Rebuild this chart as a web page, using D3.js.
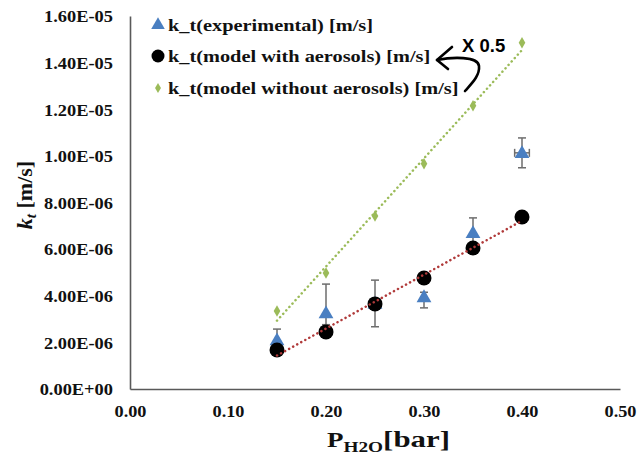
<!DOCTYPE html>
<html>
<head>
<meta charset="utf-8">
<script src="https://cdn.jsdelivr.net/npm/d3@7"></script>
<style>
  html, body { margin: 0; padding: 0; background: #fff; }
  svg { display: block; }
</style>
</head>
<body>
<div id="chart"></div>
<script>
// ---- data ----
const pressures = [0.15, 0.20, 0.25, 0.30, 0.35, 0.40];
const ktExperimental = [2.10e-6, 3.26e-6, 3.67e-6, 3.95e-6, 6.70e-6, 10.13e-6];
const expErrPlus  = [0.47e-6, 1.24e-6, 1.00e-6, 0.20e-6, 0.64e-6, 0.64e-6];
const expErrMinus = [0.47e-6, 0.50e-6, 1.00e-6, 0.47e-6, 0.64e-6, 0.64e-6];
const expErrX     = [0, 0, 0, 0, 0, 0.0075];
const ktWithAerosols = [1.67e-6, 2.45e-6, 3.65e-6, 4.76e-6, 6.05e-6, 7.38e-6];
const ktWithoutAerosols = [3.35e-6, 4.98e-6, 7.42e-6, 9.66e-6, 12.15e-6, 14.85e-6];
const xTicks = [0, 0.1, 0.2, 0.3, 0.4, 0.5];
const yTicks = [0, 2e-6, 4e-6, 6e-6, 8e-6, 10e-6, 12e-6, 14e-6, 16e-6];
const legendLabels = [
  "k_t(experimental) [m/s]",
  "k_t(model with aerosols) [m/s]",
  "k_t(model without aerosols) [m/s]"
];
const annotationText = "X 0.5";

// ---- layout ----
const W = 639, H = 463;
const plot = { left: 130, right: 620, top: 16, bottom: 389 };
const serif = "'Liberation Serif', 'Times New Roman', serif";
const colors = { exp: "#4a7fc1", withA: "#000000", withoutA: "#9bbb59", trendA: "#b03a3a", trendB: "#9bbb59", axis: "#595959" };

const svg = d3.select("#chart").append("svg").attr("width", W).attr("height", H);

const x = d3.scaleLinear().domain([0, 0.5]).range([plot.left, plot.right]);
const y = d3.scaleLinear().domain([0, 1.6e-5]).range([plot.bottom, plot.top]);

// axes
const xAxis = d3.axisBottom(x).tickValues(xTicks).tickSize(0).tickPadding(16).tickFormat(d3.format(".2f"));
const yFmt = d => {
  if (d === 0) return "0.00E+00";
  const e = Math.floor(Math.log10(d) + 1e-9);
  const m = d / Math.pow(10, e);
  return m.toFixed(2) + "E-" + String(-e).padStart(2, "0");
};
const yAxis = d3.axisLeft(y).tickValues(yTicks).tickSize(0).tickPadding(17).tickFormat(yFmt);

const gx = svg.append("g").attr("transform", `translate(0,${plot.bottom})`).call(xAxis);
const gy = svg.append("g").attr("transform", `translate(${plot.left},0)`).call(yAxis);
[gx, gy].forEach(g => {
  g.attr("font-family", null).attr("font-size", null);
  g.select(".domain").attr("stroke", colors.axis).attr("stroke-width", 1.6);
  g.selectAll("text").attr("font-family", serif).attr("font-weight", "bold").attr("font-size", 16.5).attr("fill", "#111");
});
gy.selectAll("text").attr("dy", "0.35em");
// widen tick labels horizontally, as in the reference
const yLab = gy.selectAll("text");
const ySc = 69 / yLab.filter((d, i) => i === yTicks.length - 1).node().getComputedTextLength();
yLab.attr("x", 0).attr("transform", `translate(-17,0) scale(${ySc},1)`);
const xLab = gx.selectAll("text");
const xSc = 32 / xLab.node().getComputedTextLength();
xLab.attr("transform", `scale(${xSc},1)`).attr("x", 0);
xLab.attr("x", (d) => 0).each(function () {});
// x labels are anchored at their tick translate, so scaling around x=0 keeps them centred

// error bars
const eg = svg.append("g").attr("stroke", "#6d6d6d").attr("stroke-width", 1.5).attr("fill", "none");
pressures.forEach((p, i) => {
  const cx = x(p);
  const yTop = y(ktExperimental[i] + expErrPlus[i]);
  const yBot = y(ktExperimental[i] - expErrMinus[i]);
  eg.append("line").attr("x1", cx).attr("x2", cx).attr("y1", yTop).attr("y2", yBot);
  eg.append("line").attr("x1", cx - 4).attr("x2", cx + 4).attr("y1", yTop).attr("y2", yTop);
  eg.append("line").attr("x1", cx - 4).attr("x2", cx + 4).attr("y1", yBot).attr("y2", yBot);
  if (expErrX[i] > 0) {
    const cy = y(ktExperimental[i]);
    const xl = x(p - expErrX[i]), xr = x(p + expErrX[i]);
    eg.append("line").attr("x1", xl).attr("x2", xr).attr("y1", cy).attr("y2", cy);
    eg.append("line").attr("x1", xl).attr("x2", xl).attr("y1", cy - 4).attr("y2", cy + 4);
    eg.append("line").attr("x1", xr).attr("x2", xr).attr("y1", cy - 4).attr("y2", cy + 4);
  }
});

// markers
const tri = d3.symbol().type(d3.symbolTriangle).size(95);
const dia = d3.symbol().type(d3.symbolDiamond).size(38);
svg.append("g").selectAll("path").data(pressures).join("path")
  .attr("d", tri).attr("transform", (d, i) => `translate(${x(d)},${y(ktExperimental[i]) + 1})`)
  .attr("fill", colors.exp);
svg.append("g").selectAll("circle").data(pressures).join("circle")
  .attr("cx", d => x(d)).attr("cy", (d, i) => y(ktWithAerosols[i])).attr("r", 7.5)
  .attr("fill", colors.withA);
svg.append("g").selectAll("path").data(pressures).join("path")
  .attr("d", dia).attr("transform", (d, i) => `translate(${x(d)},${y(ktWithoutAerosols[i])})`)
  .attr("fill", colors.withoutA);

// linear trendlines (least squares)
function fit(xs, ys) {
  const mx = d3.mean(xs), my = d3.mean(ys);
  const sxy = d3.sum(xs, (v, i) => (v - mx) * (ys[i] - my));
  const sxx = d3.sum(xs, v => (v - mx) * (v - mx));
  const b = sxy / sxx;
  return v => my + b * (v - mx);
}
const xEnds = d3.extent(pressures);
[[ktWithAerosols, colors.trendA], [ktWithoutAerosols, colors.trendB]].forEach(([ys, c]) => {
  const f = fit(pressures, ys);
  svg.append("path")
    .attr("d", d3.line().x(d => x(d)).y(d => y(f(d)))(xEnds))
    .attr("stroke", c).attr("stroke-width", 2.5).attr("fill", "none")
    .attr("stroke-dasharray", "0.1,4.5").attr("stroke-linecap", "round");
});

// legend (text widened horizontally like the reference)
const legendRows = [31, 62, 94];
const legendMarkers = [
  g => g.append("path").attr("d", d3.symbol().type(d3.symbolTriangle).size(80)).attr("fill", colors.exp),
  g => g.append("circle").attr("r", 6.5).attr("fill", colors.withA),
  g => g.append("path").attr("d", d3.symbol().type(d3.symbolDiamond).size(30)).attr("fill", colors.withoutA)
];
const lg = svg.append("g");
const legendTexts = [];
legendLabels.forEach((lab, i) => {
  const m = lg.append("g").attr("transform", `translate(158,${legendRows[i] - 6})`);
  legendMarkers[i](m);
  const t = lg.append("g").attr("transform", `translate(168,${legendRows[i]})`)
    .append("text").attr("x", 0).attr("y", 0)
    .attr("font-family", serif).attr("font-weight", "bold").attr("font-size", 17.5).attr("fill", "#111")
    .text(lab);
  legendTexts.push(t);
});
const legendScale = 205 / legendTexts[0].node().getComputedTextLength();
legendTexts.forEach(t => t.attr("transform", `scale(${legendScale},1)`));

// annotation "X 0.5" with curved arrow
svg.append("text").attr("x", 462).attr("y", 52)
  .attr("font-family", "'Liberation Sans', Arial, sans-serif").attr("font-weight", "bold")
  .attr("font-size", 18.5).attr("fill", "#000").text(annotationText);
svg.append("path")
  .attr("d", "M437,60 C452,57 478,56 479,66 C480,76 471,84 465,91")
  .attr("stroke", "#000").attr("stroke-width", 2.6).attr("fill", "none").attr("stroke-linecap", "round");
svg.append("path")
  .attr("d", "M452,47 L437,60 L448,69")
  .attr("stroke", "#000").attr("stroke-width", 2.6).attr("fill", "none")
  .attr("stroke-linecap", "round").attr("stroke-linejoin", "round");

// axis titles
const xtG = svg.append("g").attr("transform", "translate(327,447)");
const xt = xtG.append("text").attr("x", 0).attr("y", 0)
  .attr("font-family", serif).attr("font-weight", "bold").attr("font-size", 21).attr("fill", "#111");
xt.append("tspan").text("P");
xt.append("tspan").attr("font-size", 15).attr("dy", 5).text("H2O");
xt.append("tspan").attr("font-size", 24).attr("dy", -5).text("[bar]");
const xtScale = 123 / xt.node().getComputedTextLength();
xt.attr("transform", `scale(${xtScale},1)`);

const yt = svg.append("text").attr("transform", "translate(32,195) rotate(-90)").attr("text-anchor", "middle")
  .attr("font-family", serif).attr("font-weight", "bold").attr("font-size", 22).attr("fill", "#111");
yt.append("tspan").attr("font-style", "italic").text("k");
yt.append("tspan").attr("font-style", "italic").attr("font-size", 15).attr("dy", 4).text("t");
yt.append("tspan").attr("dy", -4).text(" [m/s]");
</script>
</body>
</html>
